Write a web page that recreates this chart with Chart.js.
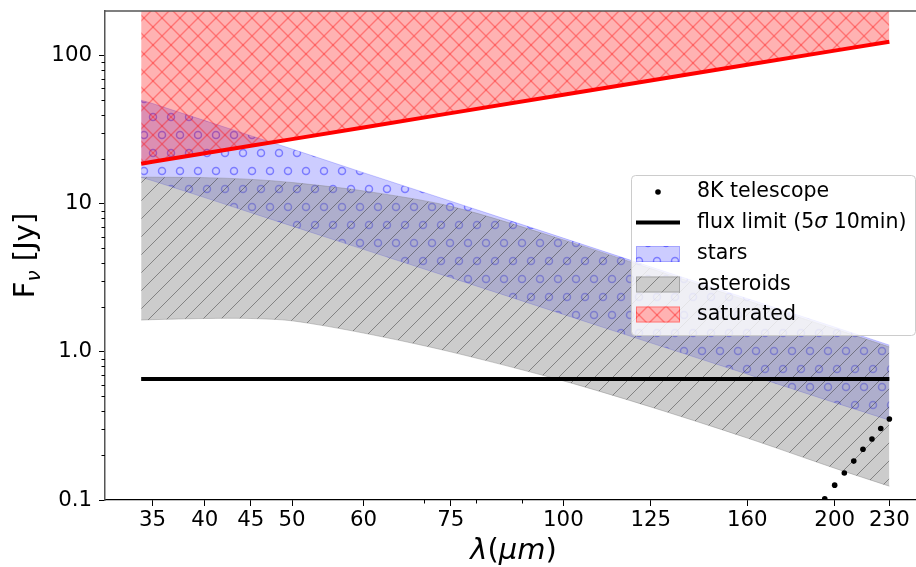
<!DOCTYPE html>
<html>
<head>
<meta charset="utf-8">
<script src="https://cdn.jsdelivr.net/npm/chart.js@4.4.1/dist/chart.umd.min.js"></script>
<style>
    html, body { margin: 0; padding: 0; overflow: hidden; background: #fff; }
</style>
</head>
<body>
<canvas id="myChart" width="926" height="567"></canvas>
<script>
const wavelengths = [34, 35, 40, 45, 50, 60, 75, 100, 125, 160, 200, 230];
const starsUpper = [50, 47.5, 36.4, 28.8, 23.4, 16.2, 10.4, 5.86, 3.75, 2.29, 1.47, 1.11];
const starsLower = [15.1, 14.3, 11.0, 8.7, 7.06, 4.92, 3.17, 1.79, 1.15, 0.707, 0.454, 0.346];
const asteroidsUpper = [15.1, 15.1, 15.0, 14.6, 13.9, 12.2, 9.6, 5.7, 3.65, 2.22, 1.43, 1.08];
const asteroidsLower = [1.64, 1.65, 1.68, 1.68, 1.62, 1.34, 1.0, 0.637, 0.425, 0.262, 0.164, 0.124];
const saturatedLower = [18.6, 19.2, 21.9, 24.6, 27.3, 32.7, 40.9, 54.4, 67.9, 86.8, 108, 124];

const fluxWavelengths = [34, 230];
const fluxLimit = [0.655, 0.655];

const telescopeWavelengths = [195, 200, 205, 210, 215, 220, 225, 230];
const telescopeFlux = [0.102, 0.126, 0.152, 0.183, 0.220, 0.258, 0.304, 0.352];

const xTickValues = [35, 40, 45, 50, 60, 75, 100, 125, 160, 200, 230];
const xMinorTicks = [70, 80, 90];
const yTickValues = [0.1, 1, 10, 100];
const yTickLabels = ['0.1', '1.0', '10', '100'];
const yMinorTicks = [0.2, 0.3, 0.4, 0.5, 0.6, 0.7, 0.8, 0.9, 2, 3, 4, 5, 6, 7, 8, 9, 20, 30, 40, 50, 60, 70, 80, 90];

const FONT = 'DejaVu Sans';

// hatch patterns (matplotlib-like), tile of 2 cells
function makePattern(kind, bg, fg, lw) {
    const s = 36;
    const c = document.createElement('canvas');
    c.width = s;
    c.height = s;
    const g = c.getContext('2d');
    g.fillStyle = bg;
    g.fillRect(0, 0, s, s);
    g.strokeStyle = fg;
    g.lineWidth = lw;
    if (kind === '/' || kind === 'x') {
        for (let k = -s; k <= s; k += s / 2) {
            g.beginPath(); g.moveTo(k, s); g.lineTo(k + s, 0); g.stroke();
        }
    }
    if (kind === 'x') {
        for (let k = -s; k <= s; k += s / 2) {
            g.beginPath(); g.moveTo(k, 0); g.lineTo(k + s, s); g.stroke();
        }
    }
    if (kind === 'o') {
        const r = 3.5;
        const centers = [[9, 9], [27, 9], [0, 27], [18, 27], [36, 27]];
        centers.forEach(function (p) {
            g.beginPath(); g.arc(p[0], p[1], r, 0, Math.PI * 2); g.stroke();
        });
    }
    return g.createPattern(c, 'repeat');
}

const starsFill = makePattern('o', 'rgba(0,0,255,0.2)', 'rgba(0,0,255,0.4)', 1.5);
const asteroidsFill = makePattern('/', 'rgba(128,128,128,0.4)', 'rgba(40,40,40,0.45)', 1);
const saturatedFill = makePattern('x', 'rgba(255,0,0,0.3)', 'rgba(255,0,0,0.35)', 1.4);

function pts(xs, ys) {
    return xs.map(function (x, i) { return { x: x, y: ys[i] }; });
}

const extras = {
    id: 'extras',
    afterDraw(chart) {
        const ctx = chart.ctx;
        const a = chart.chartArea;
        const xs = chart.scales.x;
        const ys = chart.scales.y;
        ctx.save();

        // minor ticks
        ctx.strokeStyle = '#000';
        ctx.lineWidth = 1;
        xMinorTicks.forEach(function (v) {
            const p = Math.round(xs.getPixelForValue(v)) + 0.5;
            ctx.beginPath(); ctx.moveTo(p, a.bottom); ctx.lineTo(p, a.bottom + 3.5); ctx.stroke();
        });
        yMinorTicks.forEach(function (v) {
            const p = Math.round(ys.getPixelForValue(v)) + 0.5;
            ctx.beginPath(); ctx.moveTo(a.left - 3.5, p); ctx.lineTo(a.left, p); ctx.stroke();
        });

        // top spine
        ctx.strokeStyle = '#555';
        ctx.lineWidth = 1.5;
        ctx.beginPath(); ctx.moveTo(a.left, a.top); ctx.lineTo(a.right, a.top); ctx.stroke();

        // x title  λ(μm)
        ctx.fillStyle = '#000';
        ctx.textBaseline = 'middle';
        const xParts = [['λ', 'italic'], ['(', 'normal'], ['μm', 'italic'], [')', 'normal']];
        let total = 0;
        xParts.forEach(function (p) {
            ctx.font = p[1] + ' 29px "' + FONT + '"';
            total += ctx.measureText(p[0]).width;
        });
        let cx = (a.left + a.right) / 2 - total / 2;
        xParts.forEach(function (p) {
            ctx.font = p[1] + ' 29px "' + FONT + '"';
            ctx.fillText(p[0], cx, 551);
            cx += ctx.measureText(p[0]).width;
        });

        // y title  F_ν [Jy]
        ctx.save();
        ctx.translate(24, (a.top + a.bottom) / 2);
        ctx.rotate(-Math.PI / 2);
        ctx.textBaseline = 'alphabetic';
        ctx.font = '29px "' + FONT + '"';
        const wF = ctx.measureText('F').width;
        const wJ = ctx.measureText(' [Jy]').width;
        ctx.font = 'italic 20px "' + FONT + '"';
        const wN = ctx.measureText('ν').width;
        let tx = -(wF + wN + wJ) / 2;
        ctx.font = '29px "' + FONT + '"';
        ctx.fillText('F', tx, 10);
        tx += wF;
        ctx.font = 'italic 20px "' + FONT + '"';
        ctx.fillText('ν', tx, 16);
        tx += wN;
        ctx.font = '29px "' + FONT + '"';
        ctx.fillText(' [Jy]', tx, 10);
        ctx.restore();

        // legend
        const bx = 631, by = 175, bw = 284, bh = 160;
        ctx.beginPath();
        ctx.roundRect(bx + 0.5, by + 0.5, bw, bh, 4);
        ctx.fillStyle = 'rgba(255,255,255,0.8)';
        ctx.fill();
        ctx.strokeStyle = '#cccccc';
        ctx.lineWidth = 1;
        ctx.stroke();

        const rowY = [192, 222.5, 254, 284.5, 314.5];
        const hx = 636, hw = 44, textX = 697;
        ctx.font = '20.5px "' + FONT + '"';
        ctx.textBaseline = 'middle';
        ctx.fillStyle = '#000';

        // 8K telescope
        ctx.beginPath(); ctx.arc(hx + hw / 2, rowY[0], 2.8, 0, Math.PI * 2); ctx.fill();
        ctx.fillText(chart.data.datasets[0].label, textX, rowY[0]);

        // flux limit
        ctx.strokeStyle = '#000';
        ctx.lineWidth = 4;
        ctx.beginPath(); ctx.moveTo(hx, rowY[1]); ctx.lineTo(hx + hw, rowY[1]); ctx.stroke();
        let lx = textX;
        const fluxParts = [['flux limit (5', 'normal'], ['σ', 'italic'], [' 10min)', 'normal']];
        fluxParts.forEach(function (p) {
            ctx.font = p[1] + ' 20.5px "' + FONT + '"';
            ctx.fillText(p[0], lx, rowY[1]);
            lx += ctx.measureText(p[0]).width;
        });

        // patches
        const patches = [
            [starsFill, 'rgba(0,0,255,0.2)', chart.data.datasets[5].label],
            [asteroidsFill, 'rgba(128,128,128,0.5)', chart.data.datasets[3].label],
            [saturatedFill, 'rgba(255,0,0,0.35)', chart.data.datasets[2].label]
        ];
        ctx.font = '20.5px "' + FONT + '"';
        patches.forEach(function (p, i) {
            const y = rowY[i + 2];
            ctx.fillStyle = '#fff';
            ctx.fillRect(hx, y - 8, hw, 16);
            ctx.fillStyle = p[0];
            ctx.fillRect(hx, y - 8, hw, 16);
            ctx.strokeStyle = p[1];
            ctx.lineWidth = 1;
            ctx.strokeRect(hx + 0.5, y - 7.5, hw - 1, 15);
            ctx.fillStyle = '#000';
            ctx.fillText(p[2], textX, y);
        });

        ctx.restore();
    }
};

function drawChart() {
    const ctx = document.getElementById('myChart').getContext('2d');
    const myChart = new Chart(ctx, {
        type: 'line',
        data: {
            datasets: [{
                label: '8K telescope',
                data: pts(telescopeWavelengths, telescopeFlux),
                showLine: false,
                pointRadius: 2.8,
                pointBackgroundColor: '#000',
                pointBorderWidth: 0,
                borderColor: '#000',
                order: 0
            }, {
                label: 'flux limit (5σ 10min)',
                data: pts(fluxWavelengths, fluxLimit),
                borderColor: '#000',
                borderWidth: 4,
                pointRadius: 0,
                fill: false,
                order: 1
            }, {
                label: 'saturated',
                data: pts(wavelengths, saturatedLower),
                borderColor: '#ff0000',
                borderWidth: 4,
                pointRadius: 0,
                fill: 'end',
                backgroundColor: saturatedFill,
                order: 3
            }, {
                label: 'asteroids',
                data: pts(wavelengths, asteroidsUpper),
                borderColor: 'rgba(128,128,128,0.4)',
                borderWidth: 1,
                pointRadius: 0,
                tension: 0.3,
                fill: '+1',
                backgroundColor: asteroidsFill,
                order: 4
            }, {
                label: 'asteroids lower',
                data: pts(wavelengths, asteroidsLower),
                borderColor: 'rgba(128,128,128,0.4)',
                borderWidth: 1,
                pointRadius: 0,
                tension: 0.3,
                fill: false,
                order: 4
            }, {
                label: 'stars',
                data: pts(wavelengths, starsUpper),
                borderColor: 'rgba(0,0,255,0.2)',
                borderWidth: 1,
                pointRadius: 0,
                fill: '+1',
                backgroundColor: starsFill,
                order: 5
            }, {
                label: 'stars lower',
                data: pts(wavelengths, starsLower),
                borderColor: 'rgba(0,0,255,0.2)',
                borderWidth: 1,
                pointRadius: 0,
                fill: false,
                order: 5
            }]
        },
        options: {
            responsive: false,
            animation: false,
            layout: {
                padding: { top: 11, right: 1, left: 0, bottom: 0 }
            },
            scales: {
                x: {
                    type: 'logarithmic',
                    min: 31,
                    max: 250,
                    afterBuildTicks: function (scale) {
                        scale.ticks = xTickValues.map(function (v) { return { value: v }; });
                    },
                    afterFit: function (scale) {
                        scale.height = 67;
                        scale.paddingLeft = 0;
                        scale.paddingRight = 0;
                    },
                    ticks: {
                        autoSkip: false,
                        maxRotation: 0,
                        padding: 2,
                        color: '#000',
                        font: { family: FONT, size: 21.3 },
                        callback: function (value) { return String(value); }
                    },
                    grid: {
                        drawOnChartArea: false,
                        tickLength: 6,
                        tickColor: '#000',
                        tickWidth: 1
                    },
                    border: { display: true, color: '#000', width: 1.2 }
                },
                y: {
                    type: 'logarithmic',
                    min: 0.1,
                    max: 200,
                    afterBuildTicks: function (scale) {
                        scale.ticks = yTickValues.map(function (v) { return { value: v }; });
                    },
                    afterFit: function (scale) {
                        scale.width = 105;
                        scale.paddingTop = 0;
                        scale.paddingBottom = 0;
                    },
                    ticks: {
                        autoSkip: false,
                        padding: 7,
                        color: '#000',
                        font: { family: FONT, size: 21.3 },
                        callback: function (value) {
                            const i = yTickValues.indexOf(value);
                            return i >= 0 ? yTickLabels[i] : '';
                        }
                    },
                    grid: {
                        drawOnChartArea: false,
                        tickLength: 6,
                        tickColor: '#000',
                        tickWidth: 1
                    },
                    border: { display: true, color: '#555', width: 1.5 }
                }
            },
            plugins: {
                legend: { display: false },
                tooltip: { enabled: false }
            }
        },
        plugins: [extras]
    });
}

drawChart();
</script>
</body>
</html>
